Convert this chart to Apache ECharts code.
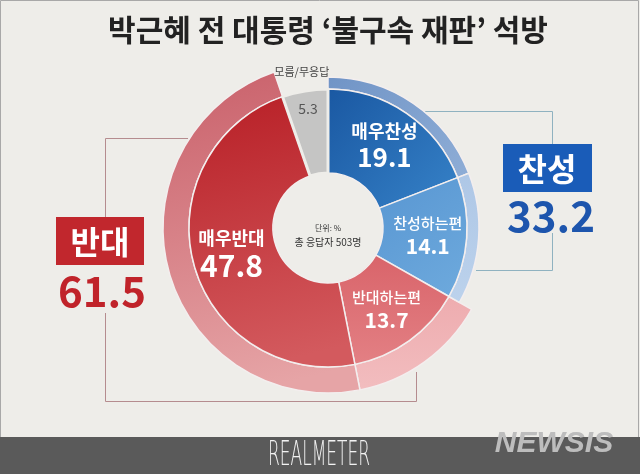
<!DOCTYPE html>
<html>
<head>
<meta charset="utf-8">
<script src="https://cdn.jsdelivr.net/npm/echarts@6/dist/echarts.min.js"></script>
<style>
html,body{margin:0;padding:0;background:#eeede9;}
#chart{width:640px;height:474px;}
</style>
</head>
<body>
<div id="chart"></div>
<script>
// ---- data ----
const titleText = '박근혜 전 대통령 ‘불구속 재판’ 석방';
const categories = ['매우찬성', '찬성하는편', '반대하는편', '매우반대', '모름/무응답'];
const values = [19.1, 14.1, 13.7, 47.8, 5.3];
const groupNames = ['찬성', '반대'];
const groupValues = [33.2, 61.5];
const centerNotes = ['단위: %', '총 응답자 503명'];
const sourceText = 'REALMETER';
const brandText = 'NEWSIS';

// ---- styles ----
const BG = '#eeede9';
const FONT = '"Noto Sans CJK KR", "Noto Sans", sans-serif';
const C = [328, 228];
function lg(x2, y2, c1, c2) {
  return new echarts.graphic.LinearGradient(0, 0, x2, y2, [{offset: 0, color: c1}, {offset: 1, color: c2}]);
}
const innerColors = [
  lg(1, 1, '#1a58a2', '#3682c8'),
  lg(1, 1, '#5896d2', '#6eaadd'),
  lg(0, 1, '#d9646a', '#e38084'),
  lg(0.4, 1, '#b81f26', '#d35a5e'),
  '#c5c5c4'
];
const outerColors = [
  lg(1, 1, '#7094c6', '#8eadd6'),
  lg(0, 1, '#aec7e6', '#bcd2ec'),
  lg(0, 1, '#eeacaf', '#f2bdbf'),
  lg(0.4, 1, '#c9606a', '#e6a4a6'),
  'transparent'
];
const labelSizes = [[18, 26], [15, 21], [15, 21], [18, 30], [12, 12]];

const innerData = categories.map((name, i) => ({
  name: name,
  value: values[i],
  itemStyle: {
    color: innerColors[i],
    borderColor: i === 4 ? BG : '#f3eeee',
    borderWidth: i === 4 ? 3 : 1.5
  },
  label: i === 4 ? {show: false} : {
    show: true,
    position: 'inside',
    formatter: p => '{n|' + p.name + '}\n{v|' + p.value.toFixed(1) + '}',
    rich: {
      n: {fontFamily: FONT, fontSize: labelSizes[i][0], fontWeight: i === 0 || i === 3 ? 'bold' : 500, color: '#fff', lineHeight: labelSizes[i][0] + 6},
      v: {fontFamily: FONT, fontSize: labelSizes[i][1], fontWeight: 'bold', color: '#fff', lineHeight: labelSizes[i][1] + 2}
    }
  }
}));

function bandData(keep) {
  return categories.map((name, i) => ({
    name: name,
    value: values[i],
    itemStyle: keep.indexOf(i) >= 0
      ? {color: outerColors[i], borderColor: '#f3eeee', borderWidth: 1.5}
      : {color: 'transparent', borderWidth: 0}
  }));
}

function labelOnly(idx, text, style) {
  return categories.map((name, i) => ({
    name: name,
    value: values[i],
    itemStyle: {color: 'transparent', borderWidth: 0},
    label: i === idx ? Object.assign({show: true, position: 'inside', formatter: text}, style) : {show: false}
  }));
}

const baseSeries = {
  type: 'pie',
  center: C,
  startAngle: 90,
  clockwise: true,
  avoidLabelOverlap: false,
  label: {show: false},
  labelLine: {show: false},
  emphasis: {disabled: true},
  silent: true,
  animation: false
};

const chart = echarts.init(document.getElementById('chart'), null, {renderer: 'canvas'});
chart.setOption({
  backgroundColor: BG,
  animation: false,
  series: [
    Object.assign({}, baseSeries, {name: '반대 밴드', radius: [139, 165], data: bandData([2, 3]), z: 1}),
    Object.assign({}, baseSeries, {name: '찬성 밴드', radius: [139, 151], data: bandData([0, 1]), z: 1}),
    Object.assign({}, baseSeries, {name: '응답', radius: [55, 139], data: innerData, z: 2}),
    Object.assign({}, baseSeries, {name: 'gray value', radius: [100, 136], z: 3,
      data: labelOnly(4, p => p.value.toFixed(1), {fontFamily: FONT, fontSize: 14, color: '#555'})}),
    Object.assign({}, baseSeries, {name: 'gray name', radius: [146, 164], z: 3,
      data: labelOnly(4, p => p.name, {fontFamily: FONT, fontSize: 11, color: '#444'})})
  ],
  graphic: [
    // image border
    {type: 'rect', shape: {x: 0.5, y: 0.5, width: 638, height: 473}, style: {fill: 'none', stroke: '#a8a8a8', lineWidth: 1}, z: 0},
    // title
    {type: 'text', x: 328, y: 30, style: {text: titleText, font: 'bold 30px ' + FONT, fill: '#222', align: 'center', verticalAlign: 'middle'}, z: 10},
    // brackets
    {type: 'polyline', shape: {points: [[188, 138.5], [105.5, 138.5], [105.5, 401.5], [416.5, 401.5], [416.5, 372]]}, style: {fill: 'none', stroke: '#b58c8f', lineWidth: 1}, z: 0},
    {type: 'polyline', shape: {points: [[425, 111.5], [552.5, 111.5], [552.5, 270.5], [476, 270.5]]}, style: {fill: 'none', stroke: '#8fb2c0', lineWidth: 1}, z: 0},
    // left group label
    {type: 'rect', shape: {x: 52, y: 265, width: 100, height: 48}, style: {fill: BG}, z: 5},
    {type: 'rect', shape: {x: 56, y: 217, width: 88, height: 48}, style: {fill: '#c1272d'}, z: 6},
    {type: 'text', x: 100, y: 242, style: {text: groupNames[1], font: 'bold 32px ' + FONT, fill: '#fff', align: 'center', verticalAlign: 'middle'}, z: 7},
    {type: 'text', x: 102, y: 291, style: {text: groupValues[1].toFixed(1), font: 'bold 42px ' + FONT, fill: '#c0232a', align: 'center', verticalAlign: 'middle'}, z: 7},
    // right group label
    {type: 'rect', shape: {x: 500, y: 192, width: 98, height: 41}, style: {fill: BG}, z: 5},
    {type: 'rect', shape: {x: 503, y: 144, width: 89, height: 48}, style: {fill: '#1a5cb8'}, z: 6},
    {type: 'text', x: 547, y: 169, style: {text: groupNames[0], font: 'bold 32px ' + FONT, fill: '#fff', align: 'center', verticalAlign: 'middle'}, z: 7},
    {type: 'text', x: 551, y: 216, style: {text: groupValues[0].toFixed(1), font: 'bold 42px ' + FONT, fill: '#1d55ad', align: 'center', verticalAlign: 'middle'}, z: 7},
    // center notes
    {type: 'text', x: 328, y: 228, style: {text: centerNotes[0], font: '8px ' + FONT, fill: '#333', align: 'center', verticalAlign: 'middle'}, z: 7},
    {type: 'text', x: 328, y: 242, style: {text: centerNotes[1], font: '10px ' + FONT, fill: '#333', align: 'center', verticalAlign: 'middle'}, z: 7},
    // bottom bar
    {type: 'rect', shape: {x: 0, y: 437, width: 640, height: 37}, style: {fill: '#5a5a5a'}, z: 8},
    {type: 'text', x: 319, y: 456, scaleX: 0.5, originX: 0, originY: 0, style: {text: sourceText, font: '300 34px "DejaVu Sans", sans-serif', fill: '#f2f2f2', align: 'center', verticalAlign: 'middle'}, z: 9},
    {type: 'text', x: 554, y: 444, style: {text: brandText, font: 'italic bold 30px "Liberation Sans", Arial, sans-serif', fill: '#bdbdbd', align: 'center', verticalAlign: 'middle', shadowColor: 'rgba(255,255,255,0.5)', shadowBlur: 3}, z: 9}
  ]
});
</script>
</body>
</html>
